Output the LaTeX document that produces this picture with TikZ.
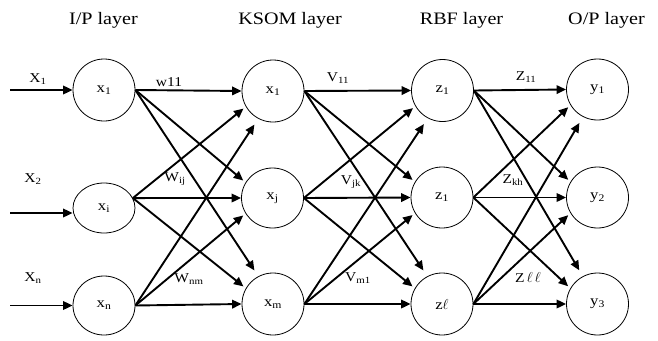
\documentclass[tikz,border=0pt]{standalone}
\usepackage{fontspec}
\setmainfont[FakeStretch=1.15]{Liberation Serif}
\usetikzlibrary{arrows.meta,shapes.geometric}
\begin{document}
\begin{tikzpicture}[x=1pt,y=-1pt,
  neuron/.style={draw,ellipse,line width=0.8pt,minimum width=62pt,minimum height=62pt,inner sep=0pt,font=\fontsize{14.5}{16}\selectfont},
  conn/.style={line width=1.9pt,-{Triangle[length=9.5pt,width=8.5pt]}},
  near/.style={conn,shorten >=3pt},
  far/.style={conn,shorten >=7pt},
  lbl/.style={font=\fontsize{13.5}{15}\selectfont,inner sep=0pt},
  ttl/.style={font=\fontsize{17.5}{20}\selectfont,inner sep=0pt,anchor=base}]
\useasboundingbox (0,0) rectangle (658,340);
% titles
\node[ttl] (t1) at (103.5,24.5) {I/P layer};
\node[ttl] (t2) at (290,24.5) {KSOM layer};
\node[ttl] (t3) at (461.5,24.5) {RBF layer};
\node[ttl] (t4) at (606.5,24.5) {O/P layer};
% neurons
\node[neuron] (a1) at (104,90) {x\textsubscript{1}};
\node[neuron,minimum height=50pt] (a2) at (104,208) {x\textsubscript{i}};
\node[neuron,minimum height=59pt] (a3) at (104,305.5) {x\textsubscript{n}};
\node[neuron] (b1) at (273,91) {x\textsubscript{1}};
\node[neuron,minimum height=60pt] (b2) at (272.5,198) {x\textsubscript{j}};
\node[neuron] (b3) at (273,304) {x\textsubscript{m}};
\node[neuron] (c1) at (442.5,90.5) {z\textsubscript{1}};
\node[neuron,minimum height=61pt] (c2) at (442,197.5) {z\textsubscript{1}};
\node[neuron] (c3) at (442,304) {z$\ell$};
\node[neuron,minimum height=61pt] (d1) at (597.5,89.5) {y\textsubscript{1}};
\node[neuron,minimum height=61pt] (d2) at (597.5,197.5) {y\textsubscript{2}};
\node[neuron] (d3) at (597.5,304) {y\textsubscript{3}};
% inputs
\coordinate (i1) at (10,90);
\coordinate (i2) at (10,213);
\coordinate (i3) at (10,305.5);
\draw[conn] (i1) -- (a1.west);
\draw[conn] (i2) -- (i2 -| a2.west);
\draw[conn] (i3) -- (a3.west);
% connections
\foreach \S/\T/\o in {a/b/19,b/c/0,c/d/0}{
  \draw[conn] (\S1.east) -- (\T1.west);
  \draw[near] (\S1.east) -- (\T2.150);
  \draw[far]  (\S1.east) -- (\T3.118);
  \draw[near] (\S2.\o) -- (\T1.210);
  \draw[conn] (\S2.\o) -- (\T2.west);
  \draw[near] (\S2.\o) -- (\T3.150);
  \draw[far]  (\S3.east) -- (\T1.242);
  \draw[near] (\S3.east) -- (\T2.210);
  \draw[conn] (\S3.east) -- (\T3.west);
}
% labels
\node[lbl] (lx1) at (38,79) {X\textsubscript{1}};
\node[lbl] (lx2) at (33,179) {X\textsubscript{2}};
\node[lbl] (lxn) at (33,278) {X\textsubscript{n}};
\node[lbl] (lw11) at (169,82) {w11};
\node[lbl] (lv11) at (338,78) {V\textsubscript{11}};
\node[lbl] (lz11) at (526,77) {Z\textsubscript{11}};
\node[lbl] (lwij) at (175,179) {W\textsubscript{ij}};
\node[lbl] (lvjk) at (351,182) {V\textsubscript{jk}};
\node[lbl] (lzkh) at (513,180) {Z\textsubscript{kh}};
\node[lbl] (lwnm) at (189,279) {W\textsubscript{nm}};
\node[lbl] (lvm1) at (358,278) {V\textsubscript{m1}};
\node[lbl] (lzll) at (528,277) {Z\,$\ell$\,$\ell$};
\end{tikzpicture}
\end{document}
